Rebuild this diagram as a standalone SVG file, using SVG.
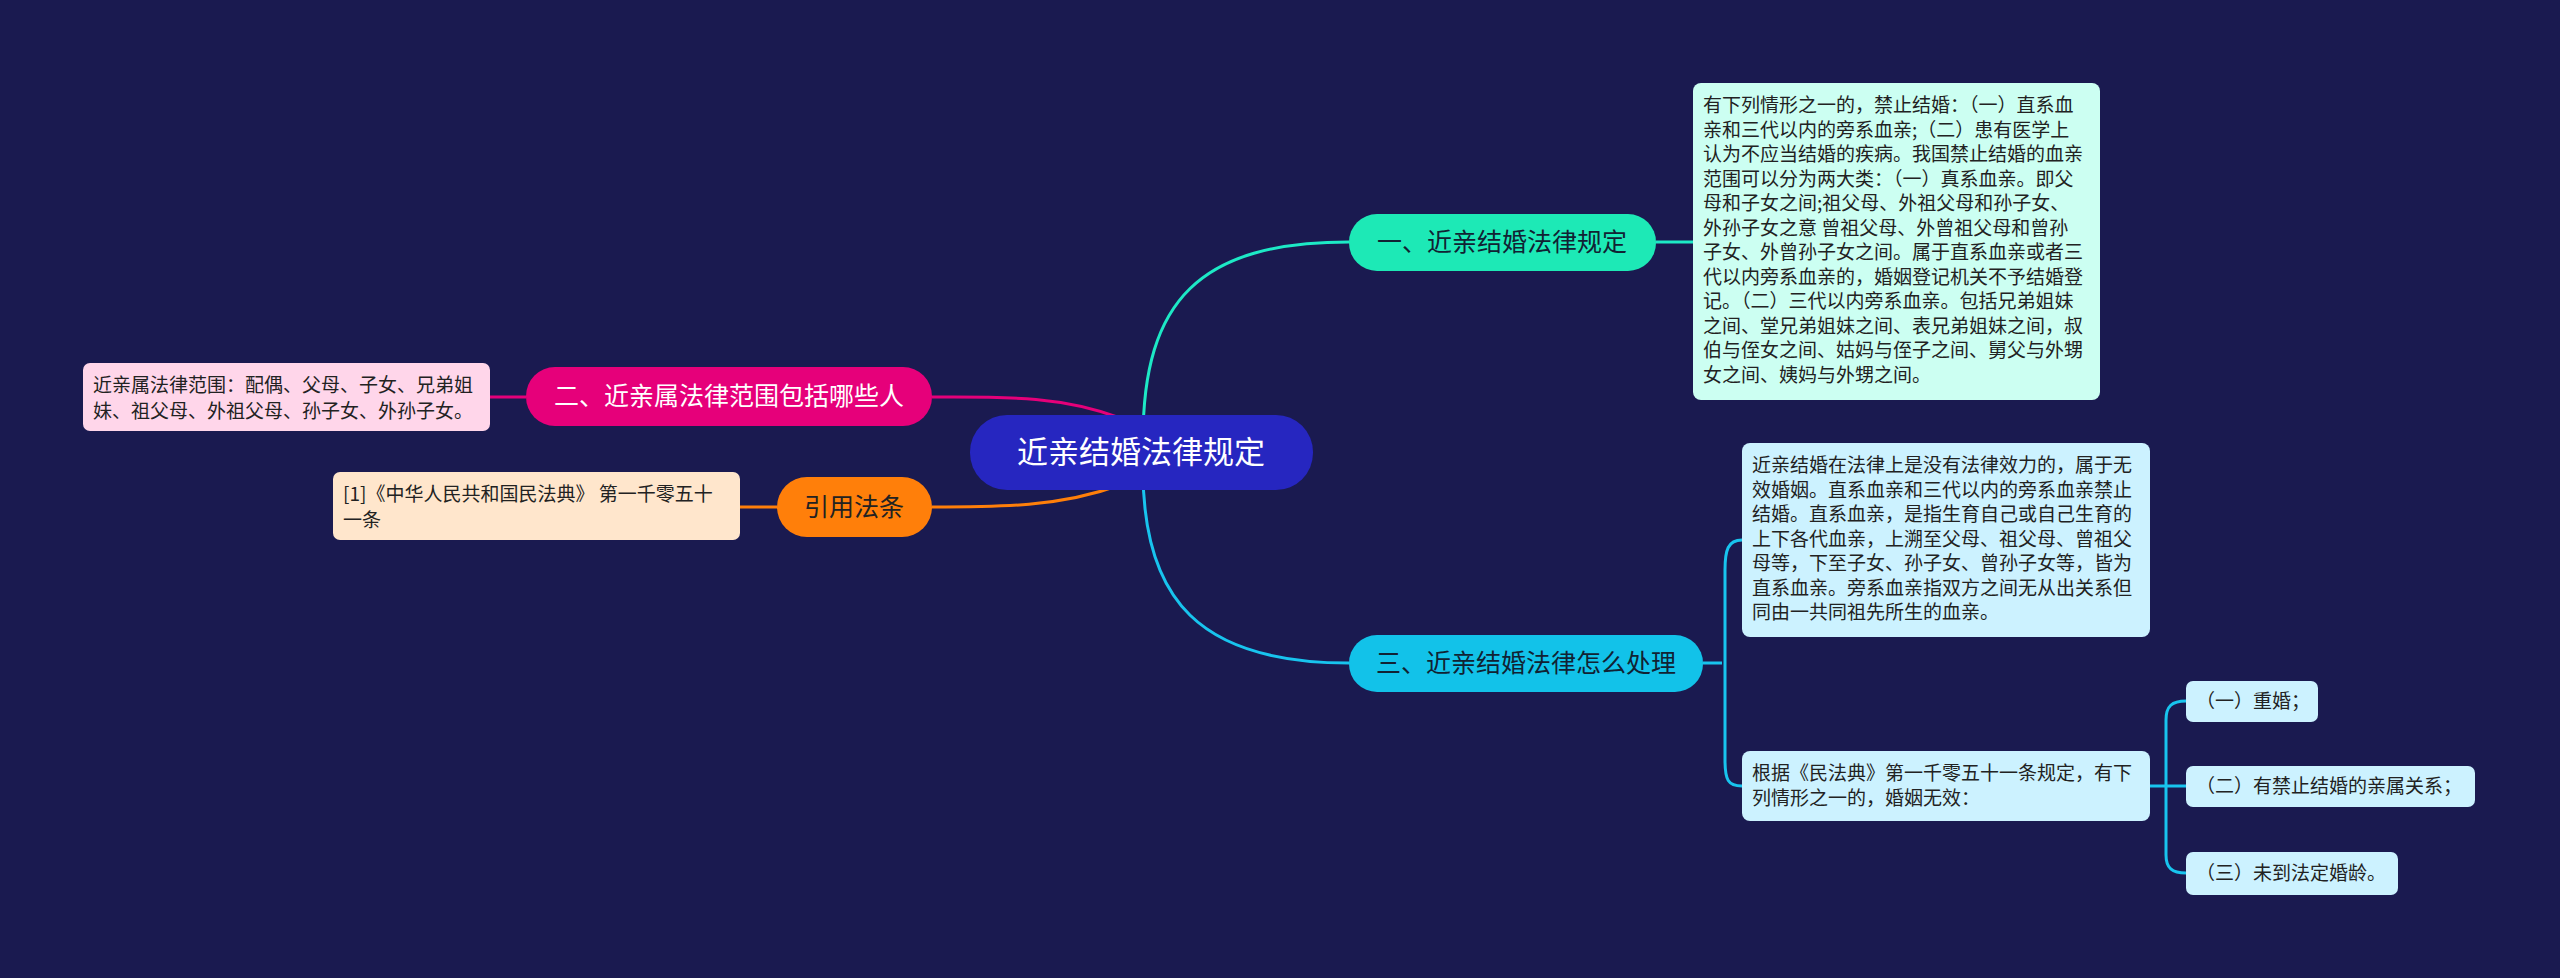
<svg xmlns="http://www.w3.org/2000/svg" width="2560" height="978" viewBox="0 0 2560 978">
<style>
text{font-family:"Noto Sans CJK SC","Noto Sans",sans-serif}
.c{fill:none;stroke-width:3}
.t{font-size:19px;fill:#222}
.b{font-size:25px}
</style>
<rect width="2560" height="978" fill="#1a1a50"/>
<g id="connectors">
<path class="c" stroke="#1de9c6" d="M1143,440 C1143,300 1200,242 1349,242"/>
<path class="c" stroke="#1de9c6" d="M1656,242 H1693"/>
<path class="c" stroke="#18c4ee" d="M1143,470 C1143,600 1200,663 1349,663"/>
<path class="c" stroke="#e6007a" d="M1120,418 C1060,395 1000,397 932,397"/>
<path class="c" stroke="#e6007a" d="M526,397 H490"/>
<path class="c" stroke="#ff7f0a" d="M1120,485 C1060,507 1000,507 932,507"/>
<path class="c" stroke="#ff7f0a" d="M777,507 H740"/>
<path class="c" stroke="#18c4ee" d="M1703,663 H1722 M1742,540 C1728,540 1725,550 1725,570 V760 C1725,780 1728,786 1742,786"/>
<path class="c" stroke="#18c4ee" d="M2150,786 H2186 M2186,701 C2172,701 2166,706 2166,720 V855 C2166,868 2172,873 2186,873"/>
</g>
<g id="center"><rect x="970" y="415" width="343" height="75" rx="37" fill="#2626c0"/><text x="1141" y="463" font-size="31" fill="#fff" text-anchor="middle">近亲结婚法律规定</text></g>
<g id="n1"><rect x="1349" y="214" width="307" height="57" rx="28" fill="#1de9b6"/><text x="1502" y="251" class="b" fill="#123" text-anchor="middle">一、近亲结婚法律规定</text></g>
<g id="n1t"><rect x="1693" y="83" width="407" height="317" rx="8" fill="#ccfff2"/>
<text class="t"><tspan x="1703" y="112">有下列情形之一的，禁止结婚：（一）直系血</tspan><tspan x="1703" y="136.5">亲和三代以内的旁系血亲;（二）患有医学上</tspan><tspan x="1703" y="161">认为不应当结婚的疾病。我国禁止结婚的血亲</tspan><tspan x="1703" y="185.5">范围可以分为两大类：（一）真系血亲。即父</tspan><tspan x="1703" y="210">母和子女之间;祖父母、外祖父母和孙子女、</tspan><tspan x="1703" y="234.5">外孙子女之意 曾祖父母、外曾祖父母和曾孙</tspan><tspan x="1703" y="259">子女、外曾孙子女之间。属于直系血亲或者三</tspan><tspan x="1703" y="283.5">代以内旁系血亲的，婚姻登记机关不予结婚登</tspan><tspan x="1703" y="308">记。（二）三代以内旁系血亲。包括兄弟姐妹</tspan><tspan x="1703" y="332.5">之间、堂兄弟姐妹之间、表兄弟姐妹之间，叔</tspan><tspan x="1703" y="357">伯与侄女之间、姑妈与侄子之间、舅父与外甥</tspan><tspan x="1703" y="381.5">女之间、姨妈与外甥之间。</tspan></text></g>
<g id="n2"><rect x="526" y="367" width="406" height="59" rx="29" fill="#e6007a"/><text x="729" y="405" class="b" fill="#fff" text-anchor="middle">二、近亲属法律范围包括哪些人</text></g>
<g id="n2t"><rect x="83" y="363" width="407" height="68" rx="7" fill="#ffd6ea"/><text class="t"><tspan x="93" y="392">近亲属法律范围：配偶、父母、子女、兄弟姐</tspan><tspan x="93" y="418">妹、祖父母、外祖父母、孙子女、外孙子女。</tspan></text></g>
<g id="n4"><rect x="777" y="477" width="155" height="60" rx="30" fill="#ff7f0a"/><text x="854" y="516" class="b" fill="#222" text-anchor="middle">引用法条</text></g>
<g id="n4t"><rect x="333" y="472" width="407" height="68" rx="7" fill="#ffe6cc"/><text class="t"><tspan x="343" y="501">[1]《中华人民共和国民法典》 第一千零五十</tspan><tspan x="343" y="527">一条</tspan></text></g>
<g id="n3"><rect x="1349" y="635" width="354" height="57" rx="28" fill="#12c2e9"/><text x="1526" y="672" class="b" fill="#123" text-anchor="middle">三、近亲结婚法律怎么处理</text></g>
<g id="n3a"><rect x="1742" y="443" width="408" height="194" rx="8" fill="#ccf2ff"/><text class="t"><tspan x="1752" y="472">近亲结婚在法律上是没有法律效力的，属于无</tspan><tspan x="1752" y="496.5">效婚姻。直系血亲和三代以内的旁系血亲禁止</tspan><tspan x="1752" y="521">结婚。直系血亲，是指生育自己或自己生育的</tspan><tspan x="1752" y="545.5">上下各代血亲，上溯至父母、祖父母、曾祖父</tspan><tspan x="1752" y="570">母等，下至子女、孙子女、曾孙子女等，皆为</tspan><tspan x="1752" y="594.5">直系血亲。旁系血亲指双方之间无从出关系但</tspan><tspan x="1752" y="619">同由一共同祖先所生的血亲。</tspan></text></g>
<g id="n3b"><rect x="1742" y="751" width="408" height="70" rx="8" fill="#ccf2ff"/><text class="t"><tspan x="1752" y="780">根据《民法典》第一千零五十一条规定，有下</tspan><tspan x="1752" y="805">列情形之一的，婚姻无效：</tspan></text></g>
<g id="l1"><rect x="2186" y="681" width="132" height="41" rx="7" fill="#ccf2ff"/><text x="2196" y="708" class="t">（一）重婚；</text></g>
<g id="l2"><rect x="2186" y="766" width="289" height="41" rx="7" fill="#ccf2ff"/><text x="2196" y="793" class="t">（二）有禁止结婚的亲属关系；</text></g>
<g id="l3"><rect x="2186" y="852" width="212" height="43" rx="7" fill="#ccf2ff"/><text x="2196" y="880" class="t">（三）未到法定婚龄。</text></g>
</svg>
